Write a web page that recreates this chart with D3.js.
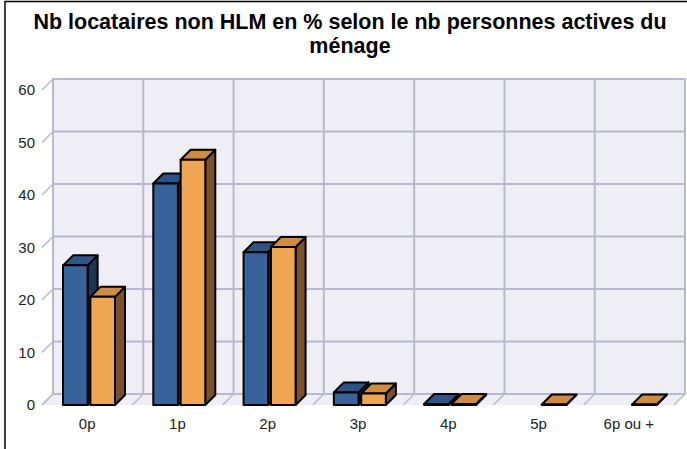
<!DOCTYPE html>
<html>
<head>
<meta charset="utf-8">
<script src="https://cdn.jsdelivr.net/npm/d3@7"></script>
<style>
  body { margin: 0; background: #fff; }
  svg { display: block; font-family: "Liberation Sans", Arial, sans-serif; }
</style>
</head>
<body>
<div id="chart"></div>
<script>
(function (d3) {
    'use strict';

    // Data
    var categories = ['0p', '1p', '2p', '3p', '4p', '5p', '6p ou +'];
    var series = ['s1', 's2'];
    var values1 = [26.6, 42.2, 29.1, 2.4, 0.2, null, null];
    var values2 = [20.6, 46.7, 30.1, 2.2, 0.2, 0.1, 0.1];
    var yTicks = [0, 10, 20, 30, 40, 50, 60];
    var titleLines = ['Nb locataires non HLM en % selon le nb personnes actives du', 'ménage'];

    var W = 687, H = 449;
    // front plane of plot area
    var left = 42, right = 674, top = 90, bottom = 405;
    var off = 11;   // wall depth
    var depth = 10; // bar depth

    var colors = [
        {front: '#37639a', top: '#2d5486', side: '#1f3554'},
        {front: '#f0a552', top: '#d08a42', side: '#7a512b'}
    ];

    var svg = d3.select('#chart').append('svg')
        .attr('width', W)
        .attr('height', H);

    // frame
    svg.append('path')
        .attr('d', 'M5,' + (H + 5) + 'V1.5H' + (W + 5))
        .attr('fill', 'none')
        .attr('stroke', '#000')
        .attr('stroke-width', 1.5);

    // title
    svg.append('text')
        .attr('x', 350)
        .attr('text-anchor', 'middle')
        .attr('font-size', '21.5px')
        .attr('font-weight', 'bold')
        .attr('fill', '#000')
        .selectAll('tspan')
        .data(titleLines)
        .enter().append('tspan')
        .attr('x', 350)
        .attr('y', function (d, i) { return 29 + i * 24; })
        .text(function (d) { return d; });

    var x = d3.scaleBand().domain(categories).range([left, right]);
    var x1 = d3.scaleBand().domain(series).range([21, 73]).paddingInner(0.1);
    var y = d3.scaleLinear().domain([0, 60]).range([bottom, top]);

    var grid = '#b8b8d0';
    var wall = '#efeef5';

    // back wall
    svg.append('rect')
        .attr('x', left + off)
        .attr('y', top - off)
        .attr('width', right - left)
        .attr('height', bottom - top)
        .attr('fill', wall)
        .attr('stroke', grid)
        .attr('stroke-width', 2);

    // floor
    svg.append('path')
        .attr('d', 'M' + left + ',' + bottom + 'L' + (left + off) + ',' + (bottom - off) +
            'L' + (right + off) + ',' + (bottom - off) + 'L' + right + ',' + bottom + 'Z')
        .attr('fill', wall);

    // horizontal gridlines + left wall ticks
    yTicks.forEach(function (t) {
        var yy = y(t);
        svg.append('line')
            .attr('x1', left + off).attr('x2', right + off)
            .attr('y1', yy - off).attr('y2', yy - off)
            .attr('stroke', grid).attr('stroke-width', 2);
        svg.append('line')
            .attr('x1', left).attr('x2', left + off)
            .attr('y1', yy).attr('y2', yy - off)
            .attr('stroke', grid).attr('stroke-width', 1.5);
        svg.append('text')
            .attr('x', 35)
            .attr('y', yy)
            .attr('dy', '0.35em')
            .attr('text-anchor', 'end')
            .attr('font-size', '15px')
            .attr('fill', '#222')
            .text(t);
    });

    // vertical gridlines + floor diagonals
    var bounds = categories.map(function (c) { return x(c); }).concat([right]);
    bounds.forEach(function (bx) {
        svg.append('line')
            .attr('x1', bx + off).attr('x2', bx + off)
            .attr('y1', top - off).attr('y2', bottom - off)
            .attr('stroke', grid).attr('stroke-width', 2);
        svg.append('line')
            .attr('x1', bx).attr('x2', bx + off)
            .attr('y1', bottom).attr('y2', bottom - off)
            .attr('stroke', grid).attr('stroke-width', 1.5);
    });

    // category labels
    svg.selectAll('.xlab')
        .data(categories)
        .enter().append('text')
        .attr('class', 'xlab')
        .attr('x', function (d) { return x(d) + x.bandwidth() / 2; })
        .attr('y', 429)
        .attr('text-anchor', 'middle')
        .attr('font-size', '15px')
        .attr('fill', '#222')
        .text(function (d) { return d; });

    // 3D bars
    var data = [values1, values2];
    var bw = x1.bandwidth();
    categories.forEach(function (c, i) {
        data.forEach(function (vals, s) {
            var v = vals[i];
            if (v === null) return;
            var x0 = x(c) + x1(series[s]);
            var x2 = x0 + bw;
            var yt = y(v);
            var yb = y(0);
            var g = svg.append('g')
                .attr('stroke', '#000')
                .attr('stroke-width', 2)
                .attr('stroke-linejoin', 'round');
            // side
            g.append('path')
                .attr('d', 'M' + x2 + ',' + yb + 'L' + x2 + ',' + yt +
                    'L' + (x2 + depth) + ',' + (yt - depth) +
                    'L' + (x2 + depth) + ',' + (yb - depth) + 'Z')
                .attr('fill', colors[s].side);
            // top
            g.append('path')
                .attr('d', 'M' + x0 + ',' + yt + 'L' + (x0 + depth) + ',' + (yt - depth) +
                    'L' + (x2 + depth) + ',' + (yt - depth) + 'L' + x2 + ',' + yt + 'Z')
                .attr('fill', colors[s].top);
            // front
            g.append('rect')
                .attr('x', x0)
                .attr('y', yt)
                .attr('width', bw)
                .attr('height', Math.max(0, yb - yt))
                .attr('fill', colors[s].front);
        });
    });

})(d3);
</script>
</body>
</html>
